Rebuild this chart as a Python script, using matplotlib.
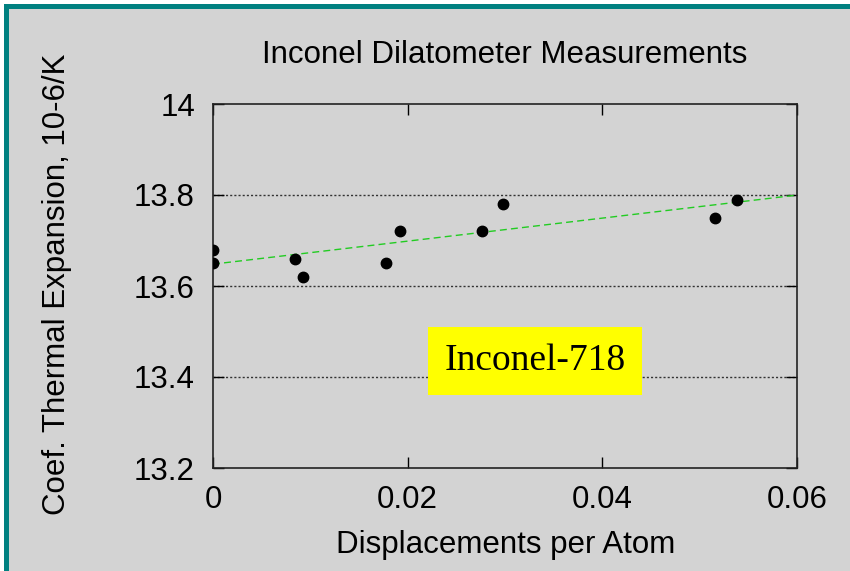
import numpy as np
import matplotlib.pyplot as plt
from matplotlib.patches import Rectangle

# data
dpa = [0.0, 0.0, 0.0084, 0.0092, 0.0178, 0.0192, 0.0276, 0.0298, 0.0516, 0.0538]
cte = [13.68, 13.65, 13.66, 13.62, 13.65, 13.72, 13.72, 13.78, 13.75, 13.79]
fit_intercept = 13.648
fit_slope = 2.53
xticks = [0, 0.02, 0.04, 0.06]
xticklabels = ['0', '0.02', '0.04', '0.06']
yticks = [13.2, 13.4, 13.6, 13.8, 14.0]
yticklabels = ['13.2', '13.4', '13.6', '13.8', '14']

plt.rcParams['font.family'] = ['Liberation Sans', 'DejaVu Sans']
bg = '#d3d3d3'
teal = '#008080'

fig = plt.figure(figsize=(8.5, 5.71), dpi=100, facecolor='white')
W, H = 850, 571
fig.patches.append(Rectangle((4 / W, 0), 1, 1 - 4 / H, transform=fig.transFigure,
                             facecolor=teal, edgecolor='none', zorder=-2))
fig.patches.append(Rectangle((9 / W, 0), 1, 1 - 9 / H, transform=fig.transFigure,
                             facecolor=bg, edgecolor='none', zorder=-1))

ax = fig.add_axes([213 / W, 1 - 468 / H, (797 - 213) / W, (468 - 104) / H])
ax.set_facecolor(bg)

xs = np.array([0, 0.06])
ax.plot(xs, fit_intercept + fit_slope * xs, color='#22cc22', lw=1.0,
        linestyle=(0, (5, 3)), zorder=3)
ax.plot(dpa, cte, 'o', color='black', markersize=7.5, zorder=4)

for y in yticks[1:-1]:
    ax.axhline(y, color='#333333', lw=1.0, linestyle=(0, (1.5, 1.5)), zorder=1)

ax.set_xlim(0, 0.06)
ax.set_ylim(13.2, 14.0)
ax.set_xticks(xticks)
ax.set_xticklabels(xticklabels)
ax.set_yticks(yticks)
ax.set_yticklabels(yticklabels)
ax.tick_params(direction='in', length=8, width=1, labelsize=22.5, pad=13,
               top=True, right=True)
ax.tick_params(axis='x', pad=12)
for s in ax.spines.values():
    s.set_linewidth(1.2)
    s.set_color('#222222')

fig.text(505 / W, 1 - 55 / H, 'Inconel Dilatometer Measurements', fontsize=22.5,
         ha='center', va='center')
fig.text(506 / W, 1 - 545 / H, 'Displacements per Atom', fontsize=22.5,
         ha='center', va='center')
fig.text(57 / W, 1 - 284 / H, 'Coef. Thermal Expansion, 10-6/K', fontsize=22.5,
         ha='center', va='center', rotation=90)

fig.text(535 / W, 1 - 361 / H, 'Inconel-718', fontsize=27, family='Liberation Serif',
         ha='center', va='center',
         bbox=dict(boxstyle='square,pad=0.45', facecolor='yellow', edgecolor='none'))

fig.savefig('out.png', dpi=100, facecolor=fig.get_facecolor())
